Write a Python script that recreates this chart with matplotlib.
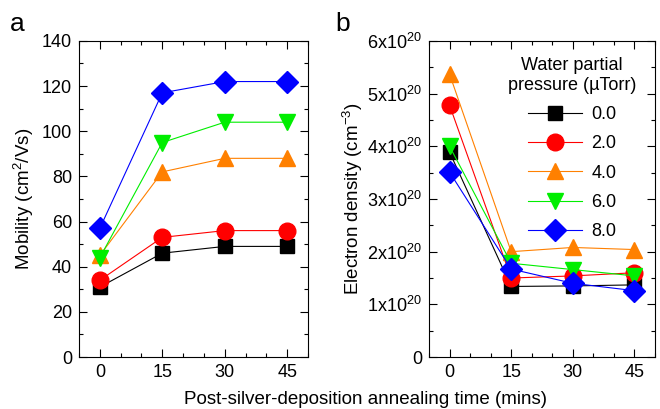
import numpy as np
import matplotlib
matplotlib.use("Agg")
import matplotlib.pyplot as plt
from matplotlib.ticker import MultipleLocator, FixedLocator, FuncFormatter

plt.rcParams['font.family'] = ['Liberation Sans', 'DejaVu Sans']
plt.rcParams['mathtext.fontset'] = 'custom'
plt.rcParams['mathtext.rm'] = 'Liberation Sans'
plt.rcParams['mathtext.it'] = 'Liberation Sans'

# ── Data ─────────────────────────────────────────────────────────────────────
time_min = [0, 15, 30, 45]
pressures = ["0.0", "2.0", "4.0", "6.0", "8.0"]

mob_00 = [31, 46, 49, 49]
mob_20 = [34, 53, 56, 56]
mob_40 = [45, 82, 88, 88]
mob_60 = [44, 95, 104, 104]
mob_80 = [57, 117, 122, 122]

# electron density in units of 1e20 cm^-3
ne_00 = [3.89, 1.34, 1.35, 1.37]
ne_20 = [4.78, 1.50, 1.54, 1.60]
ne_40 = [5.37, 2.00, 2.08, 2.04]
ne_60 = [4.00, 1.78, 1.66, 1.54]
ne_80 = [3.51, 1.67, 1.40, 1.26]

mobility = [mob_00, mob_20, mob_40, mob_60, mob_80]
density = [ne_00, ne_20, ne_40, ne_60, ne_80]

colors  = ["#000000", "#ff0000", "#ff8000", "#00ee00", "#0000ff"]
markers = ["s", "o", "^", "v", "D"]
msizes  = [10.5, 12, 12, 12, 11]

fig = plt.figure(figsize=(6.6, 4.09), dpi=100)
ax1 = fig.add_axes([0.1197, 0.127, 0.347, 0.773])
ax2 = fig.add_axes([0.650, 0.127, 0.3424, 0.773])

def style(ax):
    ax.set_xlim(-5, 50)
    ax.xaxis.set_major_locator(FixedLocator([0, 15, 30, 45]))
    ax.xaxis.set_minor_locator(MultipleLocator(5))
    ax.tick_params(which="both", direction="in", top=True, right=True,
                   labelsize=13, width=0.8)
    ax.tick_params(which="major", length=6, pad=5)
    ax.tick_params(which="minor", length=3)
    for sp in ax.spines.values():
        sp.set_linewidth(0.8)

for vals, c, m, ms in zip(mobility, colors, markers, msizes):
    ax1.plot(time_min, vals, color=c, lw=0.8, marker=m, ms=ms, mfc=c, mec=c)
style(ax1)
ax1.set_ylim(0, 140)
ax1.yaxis.set_major_locator(MultipleLocator(20))
ax1.yaxis.set_minor_locator(MultipleLocator(10))
ax1.set_ylabel("Mobility (cm$^2$/Vs)", fontsize=13.5, labelpad=4)

for vals, c, m, ms, p in zip(density, colors, markers, msizes, pressures):
    ax2.plot(time_min, vals, color=c, lw=0.8, marker=m, ms=ms, mfc=c, mec=c,
             label=p)
style(ax2)
ax2.set_ylim(0, 6)
ax2.yaxis.set_major_locator(FixedLocator([0, 1, 2, 3, 4, 5, 6]))
ax2.yaxis.set_minor_locator(MultipleLocator(0.5))
ax2.yaxis.set_major_formatter(FuncFormatter(
    lambda v, pos: "0" if v == 0 else f"{int(round(v))}x10$^{{20}}$"))
ax2.set_ylabel("Electron density (cm$^{-3}$)", fontsize=13.5, labelpad=2)

leg = ax2.legend(title="Water partial\npressure (\u00b5Torr)", loc="upper right",
                 bbox_to_anchor=(0.99, 1.0), frameon=False, fontsize=13,
                 title_fontsize=13, handlelength=3.0, labelspacing=0.68,
                 handletextpad=0.5)
leg.get_title().set_multialignment("center")

fig.text(10 / 660, 1 - 24 / 409, "a", fontsize=19, va="center")
fig.text(335 / 660, 1 - 24 / 409, "b", fontsize=19, va="center")
fig.text(366 / 660, 1 - 399 / 409, "Post-silver-deposition annealing time (mins)",
         fontsize=13.5, ha="center", va="center")

fig.savefig("out.png", dpi=100)
